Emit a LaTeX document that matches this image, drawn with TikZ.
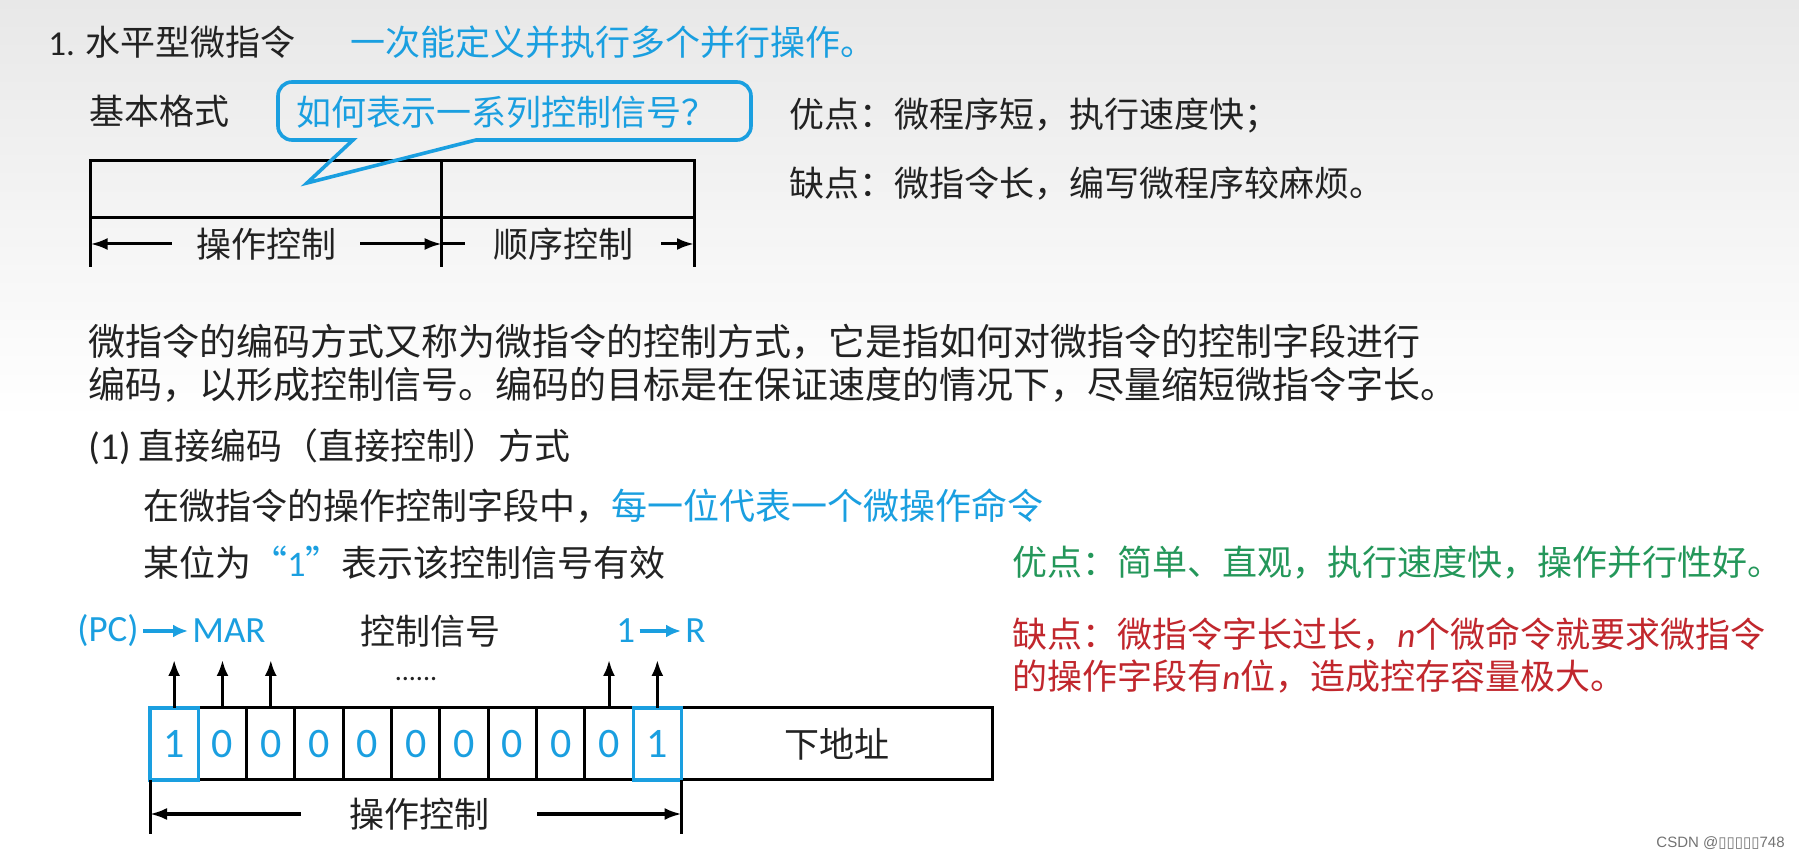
\documentclass[tikz,border=0pt]{standalone}
\usepackage{fontspec}
\setmainfont{Noto Sans CJK SC}
\newfontfamily\lat{Carlito}
\newfontfamily\symf{DejaVu Sans}
\newfontfamily\wmf{Liberation Sans}
\usepackage{tikz}
\usetikzlibrary{arrows.meta,positioning}
\usepackage{xcolor}
\definecolor{slideblue}{HTML}{1A9FE0}
\definecolor{slidegreen}{HTML}{24975A}
\definecolor{slidered}{HTML}{C1272D}
\definecolor{slideink}{HTML}{222222}
\newcommand\fsmain{\fontsize{17.5pt}{21pt}\selectfont}
\newcommand\fsbody{\fontsize{18.5pt}{22pt}\selectfont}
\newcommand\fssub{\fontsize{18pt}{22pt}\selectfont}
\tikzset{
  plaintext/.style={
    anchor=west,
    inner sep=0pt,
    text=slideink,
    font=\fsmain
  },
  bluetext/.style={
    plaintext,
    text=slideblue
  },
  fieldname/.style={
    inner sep=0pt,
    text=slideink,
    font=\fsmain
  },
  blueword/.style={
    inner sep=0pt,
    inner xsep=2pt,
    anchor=west,
    text=slideblue,
    font=\lat\fontsize{18.5pt}{20pt}\selectfont
  },
  fieldbox/.style={
    draw=black,
    line width=1.5pt,
    outer sep=0pt,
    inner sep=0pt,
    minimum height=28.7pt,
    text=slideink,
    font=\fsmain
  },
  bitcell/.style={
    draw=black,
    line width=1.5pt,
    outer sep=0pt,
    inner sep=0pt,
    minimum width=24.16pt,
    minimum height=36pt,
    text=slideblue,
    font=\lat\fontsize{21pt}{21pt}\selectfont
  },
  hotline/.style={
    draw=slideblue,
    line width=1.7pt
  },
  ruleline/.style={
    line width=1.5pt
  },
  dimarrow/.style={
    -{Latex[length=8.5pt,width=6pt]},
    line width=1.5pt
  },
  sigarrow/.style={
    -{Latex[length=8pt,width=6pt]},
    line width=1.5pt
  },
  movearrow/.style={
    -{Latex[length=7.5pt,width=6.5pt]},
    line width=2pt,
    draw=slideblue
  },
  bubbleline/.style={
    draw=slideblue,
    line width=1.8pt
  }
}

\begin{document}
\begin{tikzpicture}[x=0.5pt,y=-0.5pt]
\useasboundingbox (0,0) rectangle (1799,854);
\fill[white] (0,0) rectangle (1799,854);
\shade[top color=black!9, bottom color=white] (0,0) rectangle (1799,420);

\node[plaintext] (title) at (48,42) {{\lat 1.} 水平型微指令};
\node[bluetext] (motto) at (350,42) {一次能定义并执行多个并行操作。};

\node[plaintext] (fmt) at (89,111) {基本格式};
\node[fieldbox, anchor=north west, minimum width=175.55pt] (opf) at (90.6,160.6) {};
\node[fieldbox, minimum width=126.15pt, right=0pt of opf] (seqf) {};
\coordinate (dimtop) at (0,267);
\draw[ruleline] (opf.south west) -- (opf.south west |- dimtop);
\draw[ruleline] (opf.south east) -- (opf.south east |- dimtop);
\draw[ruleline] (seqf.south east) -- (seqf.south east |- dimtop);
\node[fieldname, inner xsep=12pt] (opl) at (266,244) {操作控制};
\node[fieldname, inner xsep=14pt] (seql) at (563,244) {顺序控制};
\draw[dimarrow] (opl.west) -- (opl.west -| opf.west);
\draw[dimarrow] (opl.east) -- (opl.east -| opf.east);
\draw[ruleline] (seql.west) -- (seql.west -| seqf.west);
\draw[dimarrow] (seql.east) -- (seql.east -| seqf.east);

\node[bluetext] (ask) at (296,112) {如何表示一系列控制信号？};
\coordinate (tip) at (307,183);
\draw[bubbleline] (476,140) -- (720,140) [rounded corners=7pt] -- (751,140) -- (751,82)
  -- (278,82) -- (278,140) -- (320,140) [sharp corners] -- (353,140) -- (tip) -- cycle;

\node[plaintext] (pro1) at (789,116) {优点：微程序短，执行速度快；};
\node[plaintext] (con1) at (789,184) {缺点：微指令长，编写微程序较麻烦。};

\node[plaintext, font=\fsbody] (enc1) at (88,342) {微指令的编码方式又称为微指令的控制方式，它是指如何对微指令的控制字段进行};
\node[plaintext, font=\fsbody] (enc2) at (88,385) {编码，以形成控制信号。编码的目标是在保证速度的情况下，尽量缩短微指令字长。};
\node[plaintext, font=\fssub] (direct) at (88,447) {{\lat\fontsize{19pt}{22pt}\selectfont (1)} 直接编码（直接控制）方式};
\node[plaintext, font=\fssub] (each) at (143,506) {在微指令的操作控制字段中，\textcolor{slideblue}{每一位代表一个微操作命令}};
\node[plaintext, font=\fssub] (valid) at (143,563) {某位为\textcolor{slideblue}{“{\lat 1}”}表示该控制信号有效};

\node[plaintext, text=slidegreen] (pro2) at (1012,563) {优点：简单、直观，执行速度快，操作并行性好。};
\node[plaintext, text=slidered] (con2) at (1012,634) {缺点：微指令字长过长，{\lat\itshape n}个微命令就要求微指令};
\node[plaintext, text=slidered] (con3) at (1012,677) {的操作字段有{\lat\itshape n}位，造成控存容量极大。};

\foreach \b [count=\i] in {1,0,0,0,0,0,0,0,0,0,1}
  \node[bitcell] (c\i) at ({150+(\i-0.5)*48.32},744) {\b};
\node[fieldbox, minimum width=155.5pt, minimum height=36pt, right=0pt of c11] (next) {下地址};
\draw[hotline] (c1.south west) rectangle (c1.north east);
\draw[hotline] (c11.south west) rectangle (c11.north east);

\coordinate (sigtop) at (0,660);
\foreach \i in {1,2,3,10,11}
  \draw[sigarrow] (c\i.north) -- (c\i.north |- sigtop);

\node[blueword] (pc) at (73,631) {(PC)};
\node[blueword] (mar) at (188,631) {MAR};
\draw[movearrow] (pc) -- (mar);
\node[fieldname] (sig) at (430,631) {控制信号};
\node[fieldname, anchor=base, font=\lat\fontsize{14pt}{14pt}\selectfont] (dots) at (416,681) {......};
\node[blueword] (one) at (612,631) {1};
\node[blueword] (reg) at (681,631) {R};
\draw[movearrow] (one) -- (reg);

\coordinate (dimbot) at (0,834);
\draw[ruleline] (c1.south west) -- (c1.south west |- dimbot);
\draw[ruleline] (c11.south east) -- (c11.south east |- dimbot);
\node[fieldname, inner xsep=24pt] (opl2) at (419,814) {操作控制};
\draw[dimarrow] (opl2.west) -- (opl2.west -| c1.west);
\draw[dimarrow] (opl2.east) -- (opl2.east -| c11.east);

\node[anchor=east, inner sep=0pt, text=black!55, font=\wmf\fontsize{7.5pt}{8pt}\selectfont] (mark) at (1785,843) {CSDN @{\symf ▯▯▯▯▯}748};
\end{tikzpicture}
\end{document}
